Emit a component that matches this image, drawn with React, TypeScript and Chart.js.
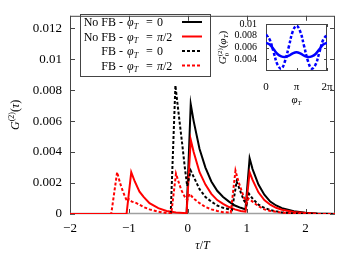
import React, { useEffect, useRef } from "react";
import { Chart, registerables } from "chart.js";
Chart.register(...registerables);

const FONT = "'Liberation Serif', 'DejaVu Serif', serif";

// ---- main plot data: G2(tau) ----
const tauNoFB0 = [-0.02, 0.05, 0.1, 0.2, 0.3, 0.4, 0.5, 0.6, 0.7, 0.8, 0.9, 0.98, 1.05, 1.1, 1.2, 1.3, 1.4, 1.5, 1.6, 1.8, 2.0, 2.2, 2.5];
const gNoFB0 = [0, 0.0071, 0.006, 0.0042, 0.003, 0.0021, 0.0015, 0.0011, 0.0008, 0.00055, 0.0004, 0.0003, 0.0036, 0.0029, 0.0019, 0.00125, 0.0008, 0.00055, 0.00038, 0.00018, 0.00008, 0.00003, 0];

const tauNoFBpi2 = [-2, -1.04, -0.96, -0.9, -0.82, -0.75, -0.65, -0.5, -0.36, -0.2, -0.02, 0.05, 0.1, 0.2, 0.3, 0.4, 0.5, 0.6, 0.7, 0.8, 0.9, 0.98, 1.05, 1.1, 1.2, 1.3, 1.4, 1.5, 1.6, 1.8, 2.0, 2.2, 2.5];
const gNoFBpi2 = [0, 0, 0.0027, 0.0021, 0.00144, 0.0011, 0.0007, 0.00038, 0.0002, 0.0001, 0.00005, 0.0048, 0.004, 0.0027, 0.0019, 0.0013, 0.0009, 0.00065, 0.00045, 0.0003, 0.0002, 0.00015, 0.0027, 0.0022, 0.0014, 0.0009, 0.0006, 0.0004, 0.00028, 0.00013, 0.00006, 0.00002, 0];

const tauFB0 = [-0.29, -0.21, -0.15, -0.1, -0.05, -0.01, 0.05, 0.1, 0.2, 0.3, 0.4, 0.5, 0.6, 0.7, 0.75, 0.83, 0.9, 0.95, 1.0, 1.04, 1.1, 1.2, 1.3, 1.4, 1.6, 1.8, 2.0, 2.5];
const gFB0 = [0, 0.0083, 0.0063, 0.0047, 0.003, 0.0018, 0.0028, 0.0024, 0.0016, 0.0011, 0.0008, 0.00055, 0.0004, 0.0003, 0.00025, 0.0021, 0.0014, 0.0009, 0.0006, 0.0013, 0.001, 0.0006, 0.0004, 0.00025, 0.0001, 0.00004, 0.00001, 0];

const tauFBpi2 = [-2, -1.3, -1.2, -1.15, -1.1, -1.03, -1.0, -0.95, -0.87, -0.75, -0.65, -0.5, -0.36, -0.28, -0.2, -0.15, -0.11, -0.05, -0.01, 0.03, 0.1, 0.2, 0.3, 0.4, 0.5, 0.6, 0.73, 0.81, 0.86, 0.91, 0.97, 1.0, 1.03, 1.1, 1.2, 1.3, 1.4, 1.6, 1.8, 2.0, 2.5];
const gFBpi2 = [0, 0, 0.0027, 0.002, 0.00144, 0.0008, 0.00095, 0.0008, 0.0007, 0.00045, 0.0003, 0.00015, 0.00006, 0.00004, 0.0026, 0.002, 0.00155, 0.0011, 0.0009, 0.0013, 0.001, 0.0007, 0.00045, 0.0003, 0.0002, 0.00012, 0.00008, 0.0028, 0.0021, 0.00155, 0.0009, 0.0007, 0.001, 0.0008, 0.0005, 0.0003, 0.0002, 0.00008, 0.00003, 0.00001, 0];

const xTicks = [-2, -1, 0, 1, 2];
const xTickLabels = ["\u22122", "\u22121", "0", "1", "2"];
const yTicks = [0, 0.002, 0.004, 0.006, 0.008, 0.01, 0.012];
const yTickLabels = ["0", "0.002", "0.004", "0.006", "0.008", "0.01", "0.012"];

// ---- inset data: G2_0(phi_T) ----
const phiInset = [0, 0.39, 0.79, 1.18, 1.57, 1.96, 2.36, 2.75, 3.14, 3.53, 3.93, 4.32, 4.71, 5.11, 5.5, 5.89, 6.28];
const gInsetNoFB = [0.0068, 0.0065, 0.0057, 0.0049, 0.0045, 0.0044, 0.0046, 0.005, 0.0052, 0.005, 0.0046, 0.0044, 0.0045, 0.0049, 0.0057, 0.0065, 0.0068];
const gInsetFB = [0.0082, 0.0073, 0.0052, 0.0031, 0.0024, 0.0037, 0.0062, 0.0087, 0.0097, 0.0087, 0.0062, 0.0037, 0.0024, 0.0031, 0.0052, 0.0073, 0.0082];
const insetXTicks = [0, 3.14159, 6.28318];
const insetXLabels = ["0", "\u03c0", "2\u03c0"];
const insetYTicks = [0.004, 0.006, 0.008, 0.01];
const insetYLabels = ["0.004", "0.006", "0.008", "0.01"];

const legendLabels = [
  { prefix: "No FB - ", value: "0" },
  { prefix: "No FB - ", value: "pi2" },
  { prefix: "FB - ", value: "0" },
  { prefix: "FB - ", value: "pi2" },
];

type Seg = { t: string; it?: boolean; s?: number; dy?: number; noAdv?: boolean };

function setFont(ctx: CanvasRenderingContext2D, g: Seg, base: number) {
  ctx.font = `${g.it ? "italic " : ""}${g.s ?? base}px ${FONT}`;
}
function segsWidth(ctx: CanvasRenderingContext2D, segs: Seg[], base: number) {
  let w = 0;
  for (const g of segs) {
    setFont(ctx, g, base);
    if (!g.noAdv) w += ctx.measureText(g.t).width;
  }
  return w;
}
function drawSegs(ctx: CanvasRenderingContext2D, segs: Seg[], x: number, y: number, base: number) {
  let cx = x;
  for (const g of segs) {
    setFont(ctx, g, base);
    ctx.fillText(g.t, cx, y + (g.dy ?? 0));
    if (!g.noAdv) cx += ctx.measureText(g.t).width;
  }
  return cx;
}

function pts(xs: number[], ys: number[]) {
  return xs.map((x, i) => ({ x, y: ys[i] }));
}

function frameAndTicks(chart: any, tickLen: number, xv: number[], yv: number[], color: string) {
  const { ctx, chartArea: a, scales } = chart;
  ctx.save();
  ctx.strokeStyle = color;
  ctx.lineWidth = 1;
  ctx.strokeRect(a.left + 0.5, a.top + 0.5, a.right - a.left - 1, a.bottom - a.top - 1);
  ctx.beginPath();
  for (const v of xv) {
    const px = Math.round(scales.x.getPixelForValue(v)) + 0.5;
    ctx.moveTo(px, a.bottom);
    ctx.lineTo(px, a.bottom - tickLen);
    ctx.moveTo(px, a.top);
    ctx.lineTo(px, a.top + tickLen);
  }
  for (const v of yv) {
    const py = Math.round(scales.y.getPixelForValue(v)) + 0.5;
    ctx.moveTo(a.left, py);
    ctx.lineTo(a.left + tickLen, py);
    ctx.moveTo(a.right, py);
    ctx.lineTo(a.right - tickLen, py);
  }
  ctx.stroke();
  ctx.restore();
}

const mainDecor = {
  id: "mainDecor",
  beforeDatasetsDraw(chart: any) {
    frameAndTicks(chart, 5, xTicks, yTicks, "#444");
    const { ctx, chartArea: a, scales } = chart;
    ctx.save();
    ctx.strokeStyle = "#a0a0a0";
    ctx.lineWidth = 1.5;
    const y0 = scales.y.getPixelForValue(0) - 0.5;
    ctx.beginPath();
    ctx.moveTo(a.left, y0);
    ctx.lineTo(a.right, y0);
    ctx.stroke();
    ctx.restore();
  },
  afterDatasetsDraw(chart: any) {
    const { ctx, chartArea: a } = chart;
    ctx.save();
    ctx.fillStyle = "#000";
    ctx.textBaseline = "alphabetic";
    // legend box
    ctx.strokeStyle = "#444";
    ctx.lineWidth = 1;
    ctx.strokeRect(80.5, 14.5, 130, 62);
    const rowsY = [22, 36.5, 51, 65.5];
    const styles = [
      { c: "#000", d: [] as number[] },
      { c: "#ff0000", d: [] as number[] },
      { c: "#000", d: [3, 2] },
      { c: "#ff0000", d: [3, 2] },
    ];
    legendLabels.forEach((L, i) => {
      const y = rowsY[i];
      const base = 12;
      ctx.font = `${base}px ${FONT}`;
      ctx.textAlign = "right";
      ctx.fillText(L.prefix, 126, y + 4);
      ctx.textAlign = "left";
      drawSegs(ctx, [{ t: "\u03c6", it: true }, { t: "T", it: true, s: 8, dy: 2.5 }], 127, y + 4, base);
      ctx.font = `${base}px ${FONT}`;
      ctx.fillText("=", 146, y + 4);
      if (L.value === "0") {
        drawSegs(ctx, [{ t: "0" }], 157, y + 4, base);
      } else {
        drawSegs(ctx, [{ t: "\u03c0", it: true }, { t: "/2" }], 157, y + 4, base);
      }
      ctx.save();
      ctx.strokeStyle = styles[i].c;
      ctx.lineWidth = 2;
      ctx.setLineDash(styles[i].d);
      ctx.beginPath();
      ctx.moveTo(182, y);
      ctx.lineTo(202, y);
      ctx.stroke();
      ctx.restore();
    });
    // y-axis title
    const ySegs: Seg[] = [
      { t: "G", it: true },
      { t: "(2)", s: 8, dy: -5 },
      { t: "(" },
      { t: "\u03c4", it: true },
      { t: ")" },
    ];
    ctx.save();
    ctx.translate(19, (a.top + a.bottom) / 2);
    ctx.rotate(-Math.PI / 2);
    const w = segsWidth(ctx, ySegs, 12);
    drawSegs(ctx, ySegs, -w / 2, 0, 12);
    ctx.restore();
    // x-axis title
    const xSegs: Seg[] = [{ t: "\u03c4", it: true }, { t: "/" }, { t: "T", it: true }];
    const wx = segsWidth(ctx, xSegs, 12);
    drawSegs(ctx, xSegs, (a.left + a.right) / 2 - wx / 2, 249, 12);
    ctx.restore();
  },
};

const insetDecor = {
  id: "insetDecor",
  beforeDatasetsDraw(chart: any) {
    frameAndTicks(chart, 3, insetXTicks, insetYTicks, "#444");
  },
  afterDatasetsDraw(chart: any) {
    const { ctx, chartArea: a } = chart;
    ctx.save();
    ctx.fillStyle = "#000";
    ctx.textBaseline = "alphabetic";
    const ySegs: Seg[] = [
      { t: "G", it: true },
      { t: "0", s: 7, dy: 3, noAdv: true },
      { t: "(2)", s: 7, dy: -4 },
      { t: "(" },
      { t: "\u03c6", it: true },
      { t: "T", it: true, s: 7, dy: 2 },
      { t: ")" },
    ];
    ctx.save();
    ctx.translate(226, (a.top + a.bottom) / 2);
    ctx.rotate(-Math.PI / 2);
    const w = segsWidth(ctx, ySegs, 11);
    drawSegs(ctx, ySegs, -w / 2, 0, 11);
    ctx.restore();
    const xSegs: Seg[] = [{ t: "\u03c6", it: true }, { t: "T", it: true, s: 7, dy: 2 }];
    const wx = segsWidth(ctx, xSegs, 11);
    drawSegs(ctx, xSegs, (a.left + a.right) / 2 - wx / 2, 103, 11);
    ctx.restore();
  },
};

export default function App() {
  const mainRef = useRef<HTMLCanvasElement>(null);
  const insetRef = useRef<HTMLCanvasElement>(null);

  useEffect(() => {
    const main = new Chart(mainRef.current!, {
      type: "line",
      data: {
        datasets: [
          { data: pts(tauNoFB0, gNoFB0), borderColor: "#000000", borderWidth: 2, order: 4 },
          { data: pts(tauNoFBpi2, gNoFBpi2), borderColor: "#ff0000", borderWidth: 2, order: 3 },
          { data: pts(tauFB0, gFB0), borderColor: "#000000", borderWidth: 2, borderDash: [3, 2], order: 2 },
          { data: pts(tauFBpi2, gFBpi2), borderColor: "#ff0000", borderWidth: 2, borderDash: [3, 2], order: 1 },
        ] as any,
      },
      options: {
        animation: false,
        responsive: false,
        devicePixelRatio: 1,
        elements: { point: { radius: 0 }, line: { tension: 0, fill: false } },
        layout: { padding: { top: 13, right: 10, left: 0, bottom: 0 } },
        scales: {
          x: {
            type: "linear",
            min: -2,
            max: 2.5,
            grid: { display: false, drawTicks: false, tickLength: 0 },
            border: { display: false },
            afterBuildTicks: (s: any) => {
              s.ticks = xTicks.map((v) => ({ value: v }));
            },
            afterFit: (s: any) => {
              s.height = 41;
            },
            ticks: {
              autoSkip: false,
              maxRotation: 0,
              padding: 7,
              color: "#000",
              font: { family: FONT, size: 13 },
              callback: (v: any) => {
                const i = xTicks.indexOf(v);
                return i >= 0 ? xTickLabels[i] : "";
              },
            },
          },
          y: {
            type: "linear",
            min: 0,
            max: 0.0128,
            grid: { display: false, drawTicks: false, tickLength: 0 },
            border: { display: false },
            afterBuildTicks: (s: any) => {
              s.ticks = yTicks.map((v) => ({ value: v }));
            },
            afterFit: (s: any) => {
              s.width = 70;
            },
            ticks: {
              autoSkip: false,
              padding: 8,
              color: "#000",
              font: { family: FONT, size: 13 },
              callback: (v: any) => {
                const i = yTicks.indexOf(v);
                return i >= 0 ? yTickLabels[i] : "";
              },
            },
          },
        },
        plugins: { legend: { display: false }, tooltip: { enabled: false } },
      } as any,
      plugins: [mainDecor],
    });

    const inset = new Chart(insetRef.current!, {
      type: "line",
      data: {
        datasets: [
          { data: pts(phiInset, gInsetNoFB), borderColor: "#0000ff", borderWidth: 2.5, tension: 0.4 },
          { data: pts(phiInset, gInsetFB), borderColor: "#0000ff", borderWidth: 2.5, borderDash: [3, 2], tension: 0.4 },
        ] as any,
      },
      options: {
        animation: false,
        responsive: false,
        devicePixelRatio: 1,
        elements: { point: { radius: 0 } },
        layout: { padding: { top: 24, right: 18, left: 226, bottom: 153 } },
        scales: {
          x: {
            type: "linear",
            min: 0,
            max: 6.28318,
            grid: { display: false, drawTicks: false, tickLength: 0 },
            border: { display: false },
            afterBuildTicks: (s: any) => {
              s.ticks = insetXTicks.map((v) => ({ value: v }));
            },
            afterFit: (s: any) => {
              s.height = 31;
            },
            ticks: {
              autoSkip: false,
              maxRotation: 0,
              padding: 10,
              color: "#000",
              font: { family: FONT, size: 11 },
              callback: (v: any) => {
                const i = insetXTicks.indexOf(v);
                return i >= 0 ? insetXLabels[i] : "";
              },
            },
          },
          y: {
            type: "linear",
            min: 0.002,
            max: 0.01,
            grid: { display: false, drawTicks: false, tickLength: 0 },
            border: { display: false },
            afterBuildTicks: (s: any) => {
              s.ticks = insetYTicks.map((v) => ({ value: v }));
            },
            afterFit: (s: any) => {
              s.width = 40;
            },
            ticks: {
              autoSkip: false,
              padding: 9,
              color: "#000",
              font: { family: FONT, size: 10 },
              callback: (v: any) => {
                const i = insetYTicks.indexOf(v);
                return i >= 0 ? insetYLabels[i] : "";
              },
            },
          },
        },
        plugins: { legend: { display: false }, tooltip: { enabled: false } },
      } as any,
      plugins: [insetDecor],
    });

    return () => {
      main.destroy();
      inset.destroy();
    };
  }, []);

  return (
    <div style={{ position: "fixed", left: 0, top: 0, width: 345, height: 255, background: "#fff" }}>
      <canvas ref={mainRef} width={345} height={255} style={{ position: "absolute", left: 0, top: 0 }} />
      <canvas ref={insetRef} width={345} height={255} style={{ position: "absolute", left: 0, top: 0 }} />
    </div>
  );
}
